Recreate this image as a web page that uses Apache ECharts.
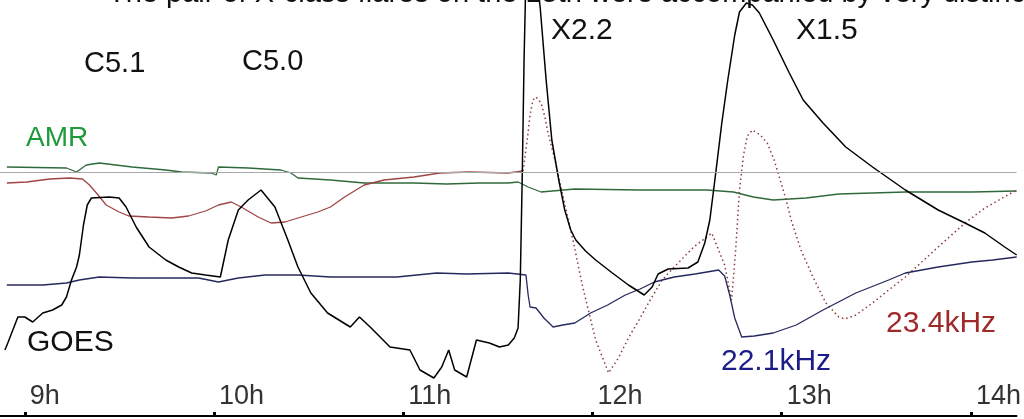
<!DOCTYPE html>
<html>
<head>
<meta charset="utf-8">
<script src="https://cdn.jsdelivr.net/npm/echarts@6/dist/echarts.min.js"></script>
<style>
html,body{margin:0;padding:0;background:#fff;}
#chart{width:1024px;height:419px;}
</style>
</head>
<body>
<div id="chart"></div>
<script>
// Time: minutes after 09:00 UT; level: relative signal units
const hourTicks = [0, 60, 120, 180, 240, 300];
const hourLabels = ['9h', '10h', '11h', '12h', '13h', '14h'];
const referenceLevel = [244];

const goesTime = [-6.3,-5.4,-3.8,-2.2,0,2.5,5.7,8.8,11.7,13.2,14.8,16.4,17.3,18.6,19.8,21.1,26.8,29.9,32.1,35.3,39.4,44.7,48.8,52.9,57.3,62.0,64.5,67.7,70.8,74.9,79.3,83.4,86.6,90.7,96.0,103.2,106.1,109.5,115.8,122.1,125.3,129.7,132.2,134.4,136.3,140.1,143.2,147.3,150.5,153.3,155.2,156.4,157.1,157.7,158.3,159.0,160.2,161.5,163.4,165.3,167.1,169.3,171.2,173.1,174.7,177.8,181.0,186.3,191.4,196.4,198.9,200.8,204.0,210.3,213.4,215.6,217.2,218.8,221.0,222.9,225.1,226.6,228.8,230.7,232.9,237.3,242.4,246.8,253.1,260.3,268.8,279.2,289.6,298.1,304.4,310.7,314.5];
const goesLevel = [66,73,86,99,99,94,103,106,111,119,136,149,161,191,211,218,219,218,209,189,169,156,149,143,141,139,176,206,216,226,209,176,149,123,103,89,99,89,69,66,46,38,49,66,46,39,76,73,69,71,78,88,136,236,356,456,496,456,409,336,276,236,206,186,176,165,156,143,131,121,129,142,147,148,154,173,196,236,293,336,381,404,413,411,403,376,343,316,293,269,249,226,206,193,183,169,161];

const amrTime = [-5.7,13.2,16.4,19.5,23.6,34.0,44.7,49.7,59.2,60.7,61.4,70.8,81.2,84.4,86.6,96.9,107.6,123.4,133.8,144.2,153.3,156.4,159.6,163.7,174.4,195.1,216.3,224.7,231.0,237.3,247.7,258.1,279.2,300.3,314.5];
const amrLevel = [249,248,244,251,253,249,246,244,243,241,249,248,246,243,238,236,233,233,232,233,233,234,229,224,227,226,226,224,219,216,218,222,224,224,225];

const khz234Time = [-5.7,0.6,7.9,14.2,18.3,20.5,22.7,25.8,29.9,33.0,39.3,46.6,51.9,57.3,61.4,65.5,68.6,74.0,78.1,82.5,86.6,92.9,96.9,101.4,107.6,113.9,123.4,131.6,141.0,153.3,158.0];
const khz234Level = [233,234,237,238,237,231,223,211,204,200,199,198,200,205,211,214,209,199,193,194,198,204,209,219,231,236,239,243,244,243,245];
const khz234FastTime = [158.0,159.3,160.2,161.1,162.1,163.7,164.9,165.9,168.1,170.0,173.8,176.9,181.0,185.1,188.2,191.4,195.1,198.3,202.1,205.9,212.1,217.8,221.9,224.1,225.4,226.6,227.9,229.1,230.7,233.2,235.4,237.6,239.8,241.4,243.0,246.1,249.9,254.0,258.1,260.0,263.5,268.8,273.9,279.2,289.6,298.1,304.4,314.5];
const khz234FastLevel = [245,276,301,316,319,313,299,283,256,229,176,129,76,43,58,78,98,116,136,149,169,183,151,116,166,226,261,280,286,281,273,256,233,216,196,166,139,113,99,97,101,113,126,139,169,193,208,226];

const khz221Time = [-5.7,5.7,13.2,17.3,23.6,34.0,44.7,55.1,61.4,67.7,76.2,86.6,96.9,118.0,130.6,140.1,153.3,158.9,159.6,160.2,162.1,164.6,167.5,170.6,174.4,179.4,184.8,190.4,195.1,199.6,205.9,212.5,216.3,220.0,221.9,223.5,225.1,227.3,231.3,237.3,244.6,253.1,263.5,273.9,279.2,289.6,300.3,306.9,314.5];
const khz221Level = [131,131,133,136,139,138,138,138,134,138,141,141,139,139,143,142,143,141,121,109,108,98,89,91,93,103,111,121,127,134,139,142,144,146,140,121,98,79,80,83,91,106,123,136,143,149,154,156,159];

function pairs(t, v) { return t.map((x, i) => [x, v[i]]); }

const FONT = "'Liberation Sans', Arial, sans-serif";
const chart = echarts.init(document.getElementById('chart'), null, {renderer: 'canvas'});

function txt(text, x, y, color, size) {
  return {
    type: 'text', x: x, y: y, z: 100,
    style: {text: text, fill: color, font: size + 'px ' + FONT, verticalAlign: 'middle', align: 'left'}
  };
}

chart.setOption({
  animation: false,
  backgroundColor: '#ffffff',
  grid: {left: 0, right: 0, top: 0, bottom: 3, containLabel: false},
  xAxis: {
    type: 'value', min: -7.87, max: 314.45,
    axisLine: {show: true, lineStyle: {color: '#000', width: 2}},
    axisTick: {show: true, inside: true, length: 4, customValues: hourTicks, lineStyle: {color: '#000', width: 3}},
    axisLabel: {
      show: true, inside: true, margin: 6, customValues: hourTicks,
      formatter: v => hourLabels[hourTicks.indexOf(Math.round(v))],
      align: 'left', padding: [0, 0, 0, 5],
      color: '#333', fontSize: 27, fontFamily: "'Liberation Sans Narrow', 'Liberation Sans', sans-serif"
    },
    splitLine: {show: false}
  },
  yAxis: {type: 'value', min: 0, max: 416, show: false, splitLine: {show: false}},
  series: [
    {
      name: 'AMR', type: 'line', data: pairs(amrTime, amrLevel), showSymbol: false,
      lineStyle: {color: '#2f6a3c', width: 1.3},
      markLine: {silent: true, symbol: 'none', label: {show: false},
        lineStyle: {color: '#a8a8a8', width: 1, type: 'solid'},
        data: referenceLevel.map(v => ({yAxis: v}))}
    },
    {
      name: '23.4kHz', type: 'line', data: pairs(khz234Time, khz234Level), showSymbol: false,
      lineStyle: {color: '#a04545', width: 1.3}
    },
    {
      name: '23.4kHz fast', type: 'line', data: pairs(khz234FastTime, khz234FastLevel), showSymbol: false,
      lineStyle: {color: '#8c3c3c', width: 1.5, type: [1.5, 3]}
    },
    {
      name: '22.1kHz', type: 'line', data: pairs(khz221Time, khz221Level), showSymbol: false,
      lineStyle: {color: '#26285e', width: 1.3}
    },
    {
      name: 'GOES', type: 'line', data: pairs(goesTime, goesLevel), showSymbol: false, clip: true,
      lineStyle: {color: '#000000', width: 1.5}
    }
  ],
  graphic: [
    txt('The pair of X-class flares on the 15th were accompanied by very distinct', 108, -6, '#111', 29),
    txt('C5.1', 84, 64, '#111', 29),
    txt('C5.0', 242, 62, '#111', 29),
    txt('AMR', 26, 138, '#1e9a3c', 28),
    txt('X2.2', 551, 31, '#111', 30),
    txt('X1.5', 796, 31, '#111', 30),
    txt('GOES', 27, 343, '#111', 30),
    txt('22.1kHz', 721, 362, '#1c1c8a', 30),
    txt('23.4kHz', 886, 324, '#9e2a2a', 30)
  ]
});
</script>
</body>
</html>
